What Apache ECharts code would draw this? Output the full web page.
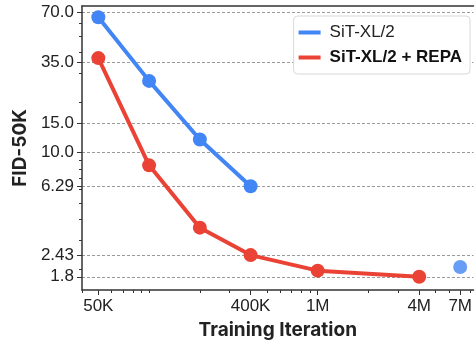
<!DOCTYPE html>
<html>
<head>
<meta charset="utf-8">
<script src="https://cdn.jsdelivr.net/npm/echarts@6/dist/echarts.min.js"></script>
<style>
  html, body { margin: 0; padding: 0; background: #fff; }
  #chart { width: 475px; height: 345px; }
</style>
</head>
<body>
<div id="chart"></div>
<script>
// Training iterations and FID-50K for the two models
const sitIters = [50000, 100000, 200000, 400000];
const sitFid = [65, 27, 12, 6.29];
const sitFinalIter = [7000000];
const sitFinalFid = [2.06];
const repaIters = [50000, 100000, 200000, 400000, 1000000, 4000000];
const repaFid = [37, 8.4, 3.55, 2.43, 1.96, 1.8];

// Labelled tick positions
const xTickValues = [50000, 400000, 1000000, 4000000, 7000000];
const xTickLabels = ['50K', '400K', '1M', '4M', '7M'];
const yTickValues = [1.8, 2.43, 6.29, 10, 15, 35, 70];
const yTickLabels = ['1.8', '2.43', '6.29', '10.0', '15.0', '35.0', '70.0'];

// Minor log ticks
const xMinor = [40000, 60000, 70000, 80000, 90000, 100000, 200000, 300000, 500000, 600000, 700000, 800000, 900000, 2000000, 3000000, 5000000, 6000000, 8000000];
const yMinor = [2, 3, 4, 5, 6, 7, 8, 9, 20, 30, 40, 50, 60];

const BLUE = '#4285F4';
const RED = '#EA4335';
const AXIS = '#333333';
const X_MIN = 40000, X_MAX = 8400000;
const Y_MIN = 1.5, Y_MAX = 76;

const pairs = (xs, ys) => xs.map((x, i) => [x, ys[i]]);
const labelFor = (vals, labels) => v => {
  let best = 0;
  for (let i = 1; i < vals.length; i++) {
    if (Math.abs(vals[i] - v) < Math.abs(vals[best] - v)) best = i;
  }
  return labels[best];
};

const chart = echarts.init(document.getElementById('chart'), null, { renderer: 'canvas' });

chart.setOption({
  animation: false,
  backgroundColor: '#ffffff',
  grid: { left: 82, right: 0, top: 6, bottom: 54, containLabel: false },
  legend: {
    right: 5, top: 16,
    orient: 'vertical',
    itemWidth: 22, itemHeight: 4, itemGap: 6,
    icon: 'rect',
    padding: [7, 8, 7, 5],
    borderColor: '#d8d8d8', borderWidth: 1, borderRadius: 4,
    backgroundColor: '#ffffff',
    textStyle: { fontFamily: 'Liberation Sans', fontSize: 17, lineHeight: 19, color: '#111', padding: [0, 0, 0, 4] },
    data: [
      { name: 'SiT-XL/2', textStyle: { fontWeight: 'normal', color: '#222' } },
      { name: 'SiT-XL/2 + REPA', textStyle: { fontWeight: 'bold', color: '#111' } }
    ]
  },
  xAxis: [
    {
      type: 'log', logBase: 10, min: X_MIN, max: X_MAX,
      name: 'Training Iteration', nameLocation: 'middle', nameGap: 31,
      nameTextStyle: { fontFamily: 'Inter', fontWeight: 'bold', fontSize: 19, color: '#222' },
      axisLine: { show: true, lineStyle: { color: AXIS, width: 1.5 } },
      axisTick: { show: true, length: 5, lineStyle: { color: AXIS }, customValues: xTickValues },
      axisLabel: {
        customValues: xTickValues,
        formatter: labelFor(xTickValues, xTickLabels),
        fontFamily: 'Liberation Sans', fontSize: 17, color: '#222', margin: 8
      },
      splitLine: { show: false },
      minorTick: { show: false }
    },
    {
      type: 'log', logBase: 10, min: X_MIN, max: X_MAX, position: 'bottom',
      axisLine: { show: false },
      axisTick: { show: true, length: 3, lineStyle: { color: AXIS }, customValues: xMinor },
      axisLabel: { show: false },
      splitLine: { show: false }
    },
    {
      type: 'log', logBase: 10, min: X_MIN, max: X_MAX, position: 'top',
      axisLine: { show: true, lineStyle: { color: AXIS, width: 1.5 } },
      axisTick: { show: false }, axisLabel: { show: false }, splitLine: { show: false }
    }
  ],
  yAxis: [
    {
      type: 'log', logBase: 10, min: Y_MIN, max: Y_MAX,
      name: 'FID-50K', nameLocation: 'middle', nameGap: 50, nameRotate: 90,
      nameTextStyle: { fontFamily: 'Inter', fontWeight: 'bold', fontSize: 19, color: '#222' },
      axisLine: { show: true, lineStyle: { color: AXIS, width: 1.5 } },
      axisTick: { show: true, length: 5, lineStyle: { color: AXIS }, customValues: yTickValues },
      axisLabel: {
        customValues: yTickValues,
        formatter: labelFor(yTickValues, yTickLabels),
        fontFamily: 'Liberation Sans', fontSize: 17, color: '#222', margin: 8
      },
      splitLine: {
        show: true,
        lineStyle: { color: '#9a9a9a', width: 1, type: [3, 2] }
      }
    },
    {
      type: 'log', logBase: 10, min: Y_MIN, max: Y_MAX, position: 'left',
      axisLine: { show: false },
      axisTick: { show: true, length: 3, lineStyle: { color: AXIS }, customValues: yMinor },
      axisLabel: { show: false },
      splitLine: { show: false }
    }
  ],
  series: [
    {
      name: 'SiT-XL/2', type: 'line',
      data: pairs(sitIters, sitFid),
      color: BLUE, lineStyle: { width: 4 },
      symbol: 'circle', symbolSize: 14, z: 3
    },
    {
      name: 'SiT-XL/2', type: 'scatter',
      data: pairs(sitFinalIter, sitFinalFid),
      color: BLUE, symbol: 'circle', symbolSize: 14, z: 3
    },
    {
      name: 'SiT-XL/2 + REPA', type: 'line',
      data: pairs(repaIters, repaFid),
      color: RED, lineStyle: { width: 4 },
      symbol: 'circle', symbolSize: 14, z: 4
    }
  ]
});
</script>
</body>
</html>
